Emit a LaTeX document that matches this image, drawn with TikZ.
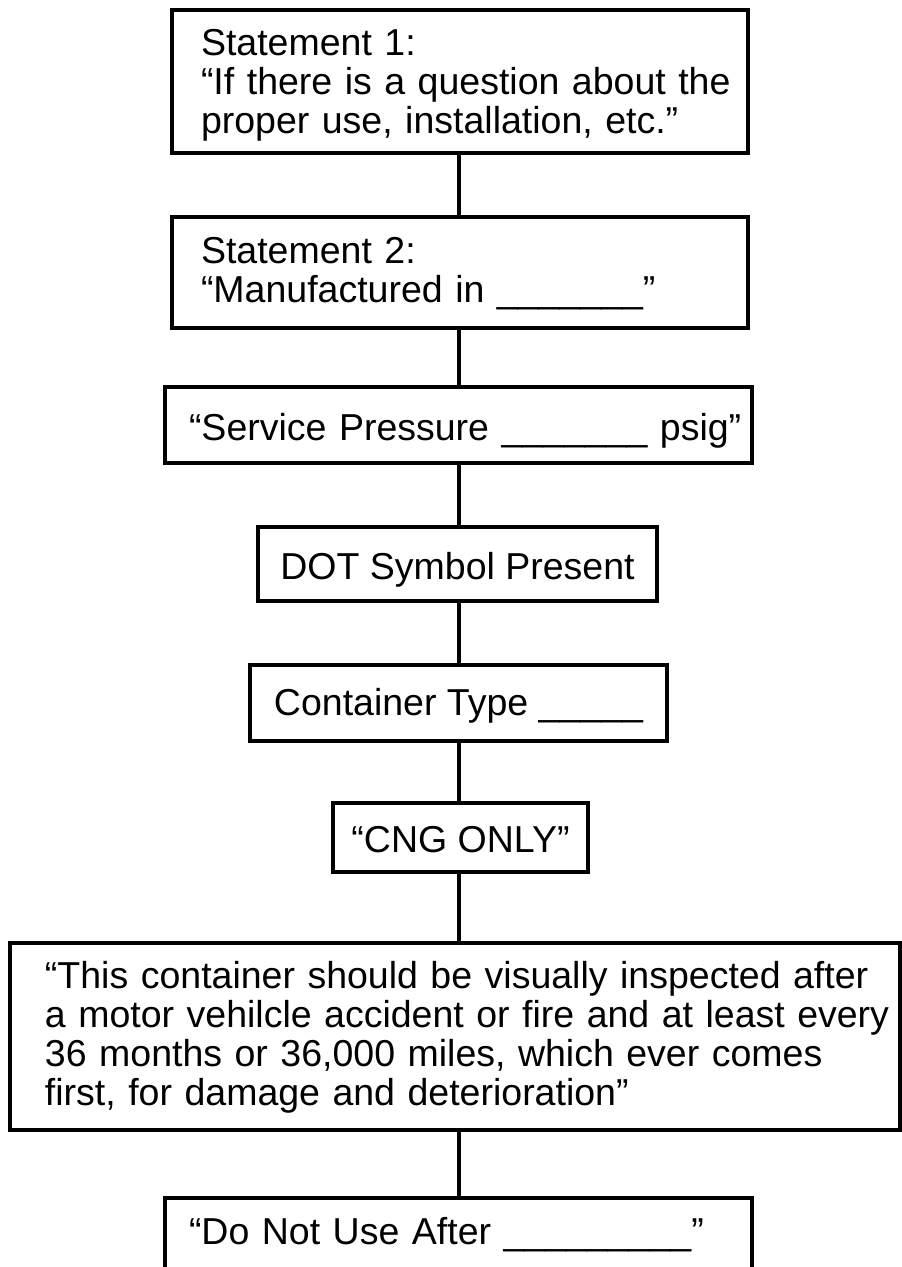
\documentclass[tikz,border=0pt]{standalone}
\usepackage{fontspec}
\setmainfont{Liberation Sans}
\begin{document}
\begin{tikzpicture}[x=1pt,y=-1pt,
  box/.style={draw, line width=4pt, inner sep=0pt, outer sep=0pt,
    font=\fontsize{37.5}{39}\selectfont},
  conn/.style={line width=4pt}]
\useasboundingbox (0,0) rectangle (902,1267);
\coordinate (spine) at (459,0);
\node[box, minimum width=576, inner xsep=29, text width=518, align=left, text height=45pt, text depth=98pt]
  (b1) at (460,81.5) {\mbox{Statement 1:}\\\mbox{“If there is a question about the}\\\mbox{proper use, installation, etc.”}};
\node[box, minimum width=576, inner xsep=29, text width=518, align=left, text height=46pt, text depth=65pt]
  (b2) at (460,272.5) {\mbox{Statement 2:}\\\mbox{“Manufactured in \_\_\_\_\_\_\_”}};
\node[box, minimum width=587, inner xsep=24, text width=539, align=left, text height=53pt, text depth=23pt]
  (b3) at (458.5,425) {\mbox{“Service Pressure \_\_\_\_\_\_\_ psig”}};
\node[box, minimum width=399, text height=52pt, text depth=22pt] (b4) at (457.5,564) {DOT Symbol Present};
\node[box, minimum width=417, text height=50pt, text depth=26pt] (b5) at (458.5,703) {Container Type \_\_\_\_\_};
\node[box, minimum width=255, text height=49pt, text depth=20pt] (b6) at (460.5,837.5) {“CNG ONLY”};
\node[box, minimum width=890, inner xsep=35, text width=820, align=left, text height=45pt, text depth=142pt]
  (b7) at (455,1036.5) {\mbox{“This container should be visually inspected after}\\\mbox{a motor vehilcle accident or fire and at least every}\\\mbox{36 months or 36,000 miles, which ever comes}\\\mbox{first, for damage and deterioration”}};
\node[box, minimum width=587, inner xsep=24, text width=539, align=left, text height=46pt, text depth=29pt]
  (b8) at (458.5,1235.5) {\mbox{“Do Not Use After \_\_\_\_\_\_\_\_\_”}};
\draw[conn] (b1.south -| spine) -- (b2.north -| spine);
\draw[conn] (b2.south -| spine) -- (b3.north -| spine);
\draw[conn] (b3.south -| spine) -- (b4.north -| spine);
\draw[conn] (b4.south -| spine) -- (b5.north -| spine);
\draw[conn] (b5.south -| spine) -- (b6.north -| spine);
\draw[conn] (b6.south -| spine) -- (b7.north -| spine);
\draw[conn] (b7.south -| spine) -- (b8.north -| spine);
\end{tikzpicture}
\end{document}
